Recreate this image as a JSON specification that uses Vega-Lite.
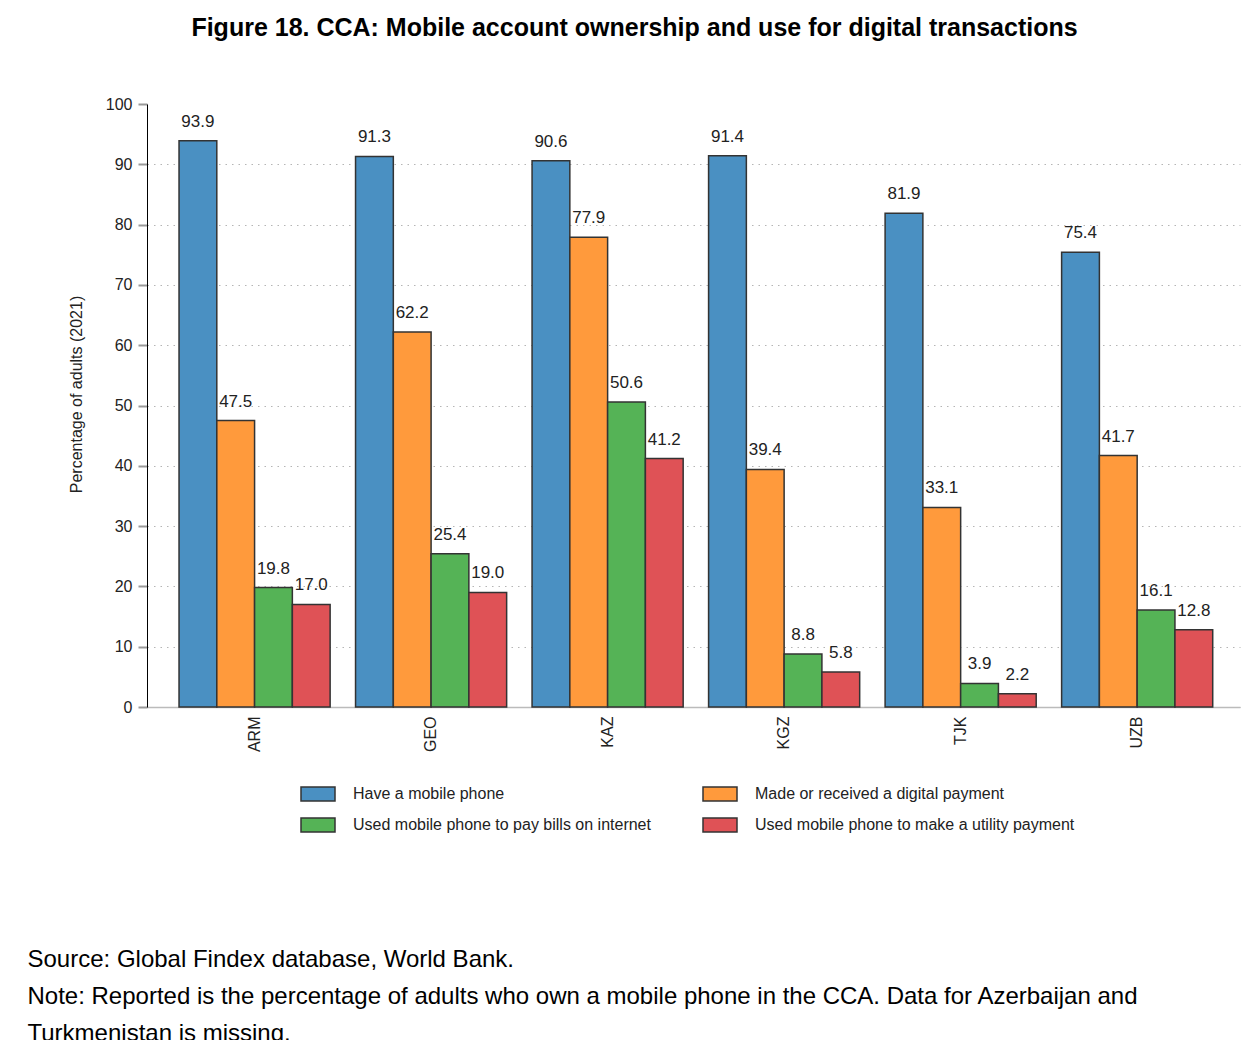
{
  "$schema": "https://vega.github.io/schema/vega-lite/v6.json",
  "autosize": {"type": "none"},
  "padding": {"left": 147, "top": 104, "right": 8, "bottom": 333},
  "width": 1093,
  "height": 603,
  "background": "white",
  "title": {
    "text": "Figure 18. CCA: Mobile account ownership and use for digital transactions",
    "font": "Liberation Sans",
    "fontSize": 25,
    "fontWeight": "bold",
    "color": "#000000",
    "anchor": "middle",
    "frame": "group",
    "dx": -59,
    "offset": 55
  },
  "data": {
    "values": [
      {"country": "ARM", "series": "Have a mobile phone", "value": 93.9},
      {"country": "ARM", "series": "Made or received a digital payment", "value": 47.5},
      {"country": "ARM", "series": "Used mobile phone to pay bills on internet", "value": 19.8},
      {"country": "ARM", "series": "Used mobile phone to make a utility payment", "value": 17.0},
      {"country": "GEO", "series": "Have a mobile phone", "value": 91.3},
      {"country": "GEO", "series": "Made or received a digital payment", "value": 62.2},
      {"country": "GEO", "series": "Used mobile phone to pay bills on internet", "value": 25.4},
      {"country": "GEO", "series": "Used mobile phone to make a utility payment", "value": 19.0},
      {"country": "KAZ", "series": "Have a mobile phone", "value": 90.6},
      {"country": "KAZ", "series": "Made or received a digital payment", "value": 77.9},
      {"country": "KAZ", "series": "Used mobile phone to pay bills on internet", "value": 50.6},
      {"country": "KAZ", "series": "Used mobile phone to make a utility payment", "value": 41.2},
      {"country": "KGZ", "series": "Have a mobile phone", "value": 91.4},
      {"country": "KGZ", "series": "Made or received a digital payment", "value": 39.4},
      {"country": "KGZ", "series": "Used mobile phone to pay bills on internet", "value": 8.8},
      {"country": "KGZ", "series": "Used mobile phone to make a utility payment", "value": 5.8},
      {"country": "TJK", "series": "Have a mobile phone", "value": 81.9},
      {"country": "TJK", "series": "Made or received a digital payment", "value": 33.1},
      {"country": "TJK", "series": "Used mobile phone to pay bills on internet", "value": 3.9},
      {"country": "TJK", "series": "Used mobile phone to make a utility payment", "value": 2.2},
      {"country": "UZB", "series": "Have a mobile phone", "value": 75.4},
      {"country": "UZB", "series": "Made or received a digital payment", "value": 41.7},
      {"country": "UZB", "series": "Used mobile phone to pay bills on internet", "value": 16.1},
      {"country": "UZB", "series": "Used mobile phone to make a utility payment", "value": 12.8}
    ]
  },
  "encoding": {
    "x": {
      "field": "country",
      "type": "nominal",
      "scale": {"paddingInner": 0.144, "paddingOuter": 0.168, "align": 0.54},
      "axis": {
        "title": [
          "Source: Global Findex database, World Bank.",
          "Note: Reported is the percentage of adults who own a mobile phone in the CCA. Data for Azerbaijan and",
          "Turkmenistan is missing."
        ],
        "titleFont": "Liberation Sans",
        "titleFontSize": 24,
        "titleFontWeight": "normal",
        "titleColor": "#000000",
        "titleAnchor": "start",
        "titleAlign": "left",
        "titleBaseline": "alphabetic",
        "titleLineHeight": 37,
        "titleX": -120,
        "titleY": 259,
        "labelAngle": -90,
        "labelFont": "Liberation Sans",
        "labelFontSize": 16,
        "labelColor": "#222222",
        "labelPadding": 9,
        "ticks": false,
        "domain": true,
        "domainColor": "#bbbbbb",
        "domainWidth": 1.5,
        "grid": false
      }
    },
    "xOffset": {
      "field": "series",
      "type": "nominal",
      "sort": [
        "Have a mobile phone",
        "Made or received a digital payment",
        "Used mobile phone to pay bills on internet",
        "Used mobile phone to make a utility payment"
      ],
      "scale": {"paddingInner": 0, "paddingOuter": 0}
    },
    "y": {
      "field": "value",
      "type": "quantitative",
      "scale": {"domain": [0, 100], "nice": false},
      "axis": {
        "title": "Percentage of adults (2021)",
        "titleFont": "Liberation Sans",
        "titleFontSize": 16,
        "titleFontWeight": "normal",
        "titleColor": "#222222",
        "titlePadding": 21,
        "titleY": 290,
        "values": [0, 10, 20, 30, 40, 50, 60, 70, 80, 90, 100],
        "labelFont": "Liberation Sans",
        "labelFontSize": 16,
        "labelColor": "#222222",
        "labelPadding": 6,
        "tickColor": "#999999",
        "tickWidth": 2,
        "tickSize": 9,
        "domainColor": "#000000",
        "domainWidth": 1,
        "grid": true,
        "gridColor": "#b5b5b5",
        "gridWidth": 1.2,
        "gridDash": [1.5, 5],
        "gridOpacity": {"condition": {"test": "datum.value == 100", "value": 0}, "value": 1}
      }
    }
  },
  "layer": [
    {
      "mark": {"type": "bar", "stroke": "#333333", "strokeWidth": 1.5, "opacity": 1},
      "encoding": {
        "color": {
          "field": "series",
          "type": "nominal",
          "scale": {
            "domain": [
              "Have a mobile phone",
              "Made or received a digital payment",
              "Used mobile phone to pay bills on internet",
              "Used mobile phone to make a utility payment"
            ],
            "range": ["#4A90C2", "#FF9A3C", "#55B356", "#DF5256"]
          },
          "legend": {
            "title": null,
            "orient": "none",
            "legendX": 153,
            "legendY": 672,
            "columns": 2,
            "direction": "horizontal",
            "columnPadding": 49,
            "rowPadding": 3,
            "symbolType": "M-1,-0.41H1V0.41H-1Z",
            "symbolSize": 1156,
            "symbolStrokeColor": "#333333",
            "symbolStrokeWidth": 1.5,
            "symbolOpacity": 1,
            "labelFont": "Liberation Sans",
            "labelFontSize": 16,
            "labelColor": "#222222",
            "labelOffset": 17,
            "labelLimit": 500
          }
        }
      }
    },
    {
      "mark": {
        "type": "text",
        "baseline": "alphabetic",
        "dy": -14,
        "font": "Liberation Sans",
        "fontSize": 17,
        "color": "#222222"
      },
      "encoding": {
        "text": {"field": "value", "type": "quantitative", "format": ".1f"}
      }
    }
  ],
  "config": {
    "view": {"stroke": null}
  }
}
